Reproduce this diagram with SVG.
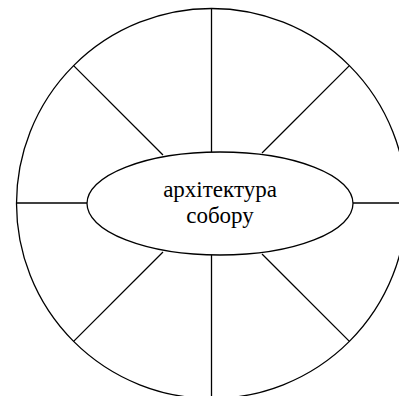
<svg xmlns="http://www.w3.org/2000/svg" width="399" height="396" viewBox="0 0 399 396">
<style>
.s{fill:none;stroke:#000;stroke-width:1.3}
.t{font-family:"Liberation Serif","Times New Roman",serif;font-size:23px;fill:#000;text-anchor:middle}
</style>
<rect width="399" height="396" fill="#fff"/>
<g id="outer">
<circle class="s" cx="211.5" cy="203.5" r="195"/>
</g>
<g id="connectors">
<line class="s" x1="211.5" y1="8.5" x2="211.5" y2="152"/>
<line class="s" x1="211.5" y1="255" x2="211.5" y2="398.5"/>
<line class="s" x1="16.5" y1="203" x2="87" y2="203"/>
<line class="s" x1="353" y1="203" x2="406.5" y2="203"/>
<line class="s" x1="73.6" y1="65.6" x2="163" y2="155"/>
<line class="s" x1="349.4" y1="65.6" x2="262" y2="153"/>
<line class="s" x1="73.6" y1="341.4" x2="163" y2="252"/>
<line class="s" x1="349.4" y1="341.4" x2="262" y2="254"/>
</g>
<g id="center">
<ellipse cx="220" cy="203.5" rx="133" ry="51.5" fill="#fff" stroke="#000" stroke-width="1.3"/>
<text class="t" x="220" y="197">архітектура</text>
<text class="t" x="220" y="223">собору</text>
</g>
</svg>
